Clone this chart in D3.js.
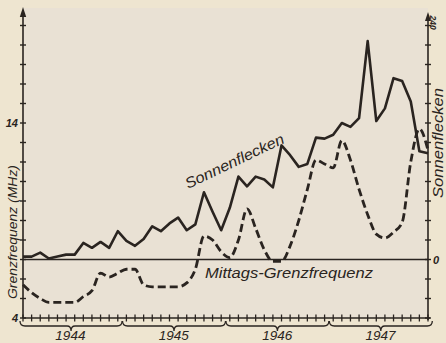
<!DOCTYPE html>
<html>
<head>
<meta charset="utf-8">
<script src="https://cdn.jsdelivr.net/npm/d3@7"></script>
<style>
  html, body { margin: 0; padding: 0; background: #eee5d0; }
  svg { display: block; }
  text { font-family: "Liberation Sans", Arial, sans-serif; font-style: italic; fill: #2a2420; }
</style>
</head>
<body>
<svg id="chart" width="446" height="343"></svg>
<script>
// Monthly values, January 1944 to December 1947
const years = ["1944", "1945", "1946", "1947"];

// Sunspot number (right axis)
const sunspots = [
  3, 3, 7, 1, 3, 5, 5, 17, 12, 18, 12, 29,
  19, 14, 21, 34, 29, 37, 43, 30, 36, 69, 49, 30,
  53, 85, 75, 85, 82, 74, 117, 107, 95, 98, 125, 124,
  128, 140, 136, 145, 224, 142, 155, 186, 183, 162, 111, 109
];

// Noon critical frequency in MHz (left axis)
const noonFreq = [
  5.7, 5.3, 5.0, 4.8, 4.8, 4.8, 4.8, 5.1, 5.4, 6.3, 6.1, 6.3,
  6.5, 6.5, 5.7, 5.6, 5.6, 5.6, 5.6, 5.8, 6.5, 8.2, 8.0, 7.4,
  7.1, 8.0, 9.6, 8.6, 7.5, 6.9, 6.9, 7.7, 9.0, 10.6, 12.1, 11.9,
  11.7, 13.1, 12.1, 10.6, 9.3, 8.3, 8.1, 8.4, 8.9, 12.0, 13.7, 12.6
];

const freqTicks = d3.range(4, 20);          // one tick per MHz
const freqLabels = [4, 14];
const spotTicks = d3.range(-60, 241, 20);   // one tick per 20 spots
const spotLabels = [0, 240];

const ink = "#2a2420";
const svg = d3.select("#chart");

const left = 23, right = 428, bottom = 318;

const x = d3.scaleLinear().domain([0, 47]).range([left, right]);
const yF = d3.scaleLinear().domain([4, 19]).range([bottom, 25.5]);
const yS = d3.scaleLinear().domain([-60, 240]).range([bottom, 25.5]);

// paper inside the frame
svg.append("rect")
  .attr("x", left).attr("y", 8)
  .attr("width", right - left).attr("height", bottom - 8)
  .attr("fill", "#e9e1d4");

// zero line of the sunspot scale
svg.append("line")
  .attr("x1", left).attr("x2", right)
  .attr("y1", yS(0)).attr("y2", yS(0))
  .attr("stroke", ink).attr("stroke-width", 1.3);

// left axis (frequency)
const gL = svg.append("g").attr("transform", `translate(${left},0)`);
gL.append("line").attr("y1", bottom).attr("y2", 14)
  .attr("stroke", ink).attr("stroke-width", 1.6);
gL.append("path").attr("d", "M0,7 L-3.2,17 L3.2,17 Z").attr("fill", ink);
gL.selectAll(".t").data(freqTicks).join("line")
  .attr("x1", -3).attr("x2", 3)
  .attr("y1", d => yF(d)).attr("y2", d => yF(d))
  .attr("stroke", ink).attr("stroke-width", 1.4);
gL.selectAll(".lab").data(freqLabels).join("text")
  .attr("x", -5).attr("y", d => yF(d) + 4)
  .attr("text-anchor", "end")
  .attr("font-size", 11).attr("font-weight", "bold")
  .text(d => d);

// right axis (sunspots)
const gR = svg.append("g").attr("transform", `translate(${right},0)`);
gR.append("line").attr("y1", bottom + 2).attr("y2", 19)
  .attr("stroke", ink).attr("stroke-width", 1.6);
gR.append("path").attr("d", "M0,12 L-3,21 L3,21 Z").attr("fill", ink);
gR.selectAll(".t").data(spotTicks).join("line")
  .attr("x1", -3).attr("x2", 3)
  .attr("y1", d => yS(d)).attr("y2", d => yS(d))
  .attr("stroke", ink).attr("stroke-width", 1.4);
gR.append("text")
  .attr("x", 5).attr("y", yS(spotLabels[0]) + 4)
  .attr("font-size", 11).attr("font-weight", "bold")
  .text(spotLabels[0]);
gR.append("text")
  .attr("transform", `translate(2,${yS(spotLabels[1]) - 10}) rotate(90)`)
  .attr("font-size", 8.5).attr("font-weight", "bold")
  .text(spotLabels[1]);

// bottom axis with monthly ticks
const gB = svg.append("g");
gB.append("line").attr("x1", left).attr("x2", right + 2)
  .attr("y1", bottom).attr("y2", bottom)
  .attr("stroke", ink).attr("stroke-width", 1.6);
gB.selectAll(".m").data(d3.range(0, 48)).join("line")
  .attr("x1", d => x(d)).attr("x2", d => x(d))
  .attr("y1", bottom - 3.5).attr("y2", bottom + 3.5)
  .attr("stroke", ink).attr("stroke-width", 1.3);

// curly braces grouping the months of each year
function brace(x1, x2, y) {
  const p = d3.path();
  const mid = (x1 + x2) / 2, h = 5;
  p.moveTo(x1, y - h);
  p.quadraticCurveTo(x1, y, x1 + 5, y);
  p.lineTo(mid - 4, y);
  p.quadraticCurveTo(mid, y, mid, y + h);
  p.quadraticCurveTo(mid, y, mid + 4, y);
  p.lineTo(x2 - 5, y);
  p.quadraticCurveTo(x2, y, x2, y - h);
  return p.toString();
}
years.forEach((yr, i) => {
  const x1 = Math.max(x(i * 12 - 0.45), left - 3);
  const x2 = x(i * 12 + 11.5);
  gB.append("path").attr("d", brace(x1, x2, bottom + 8))
    .attr("fill", "none").attr("stroke", ink).attr("stroke-width", 1.3);
  gB.append("text")
    .attr("x", x(i * 12 + 5.5)).attr("y", 340)
    .attr("text-anchor", "middle")
    .attr("font-size", 13.5)
    .text(yr);
});

// noon critical frequency, dashed
svg.append("path")
  .datum(noonFreq)
  .attr("d", d3.line().x((d, i) => x(i)).y(d => yF(d)).curve(d3.curveMonotoneX))
  .attr("fill", "none").attr("stroke", ink)
  .attr("stroke-width", 2.8).attr("stroke-dasharray", "8,4");

// sunspot number, solid
svg.append("path")
  .datum(sunspots)
  .attr("d", d3.line().x((d, i) => x(i)).y(d => yS(d)))
  .attr("fill", "none").attr("stroke", ink)
  .attr("stroke-width", 2.6).attr("stroke-linejoin", "round");

// curve labels
svg.append("text")
  .attr("transform", "translate(188,189) rotate(-25.5)")
  .attr("font-size", 15)
  .attr("textLength", 108).attr("lengthAdjust", "spacingAndGlyphs")
  .text("Sonnenflecken");
svg.append("text")
  .attr("x", 205).attr("y", 277.5)
  .attr("font-size", 14)
  .attr("textLength", 168).attr("lengthAdjust", "spacingAndGlyphs")
  .text("Mittags-Grenzfrequenz");

// axis titles
svg.append("text")
  .attr("transform", "translate(17,232) rotate(-90)")
  .attr("text-anchor", "middle")
  .attr("font-size", 13)
  .attr("textLength", 134).attr("lengthAdjust", "spacingAndGlyphs")
  .text("Grenzfrequenz (MHz)");
svg.append("text")
  .attr("transform", "translate(443,143) rotate(-90)")
  .attr("text-anchor", "middle")
  .attr("font-size", 15)
  .attr("textLength", 110).attr("lengthAdjust", "spacingAndGlyphs")
  .text("Sonnenflecken");
</script>
</body>
</html>
